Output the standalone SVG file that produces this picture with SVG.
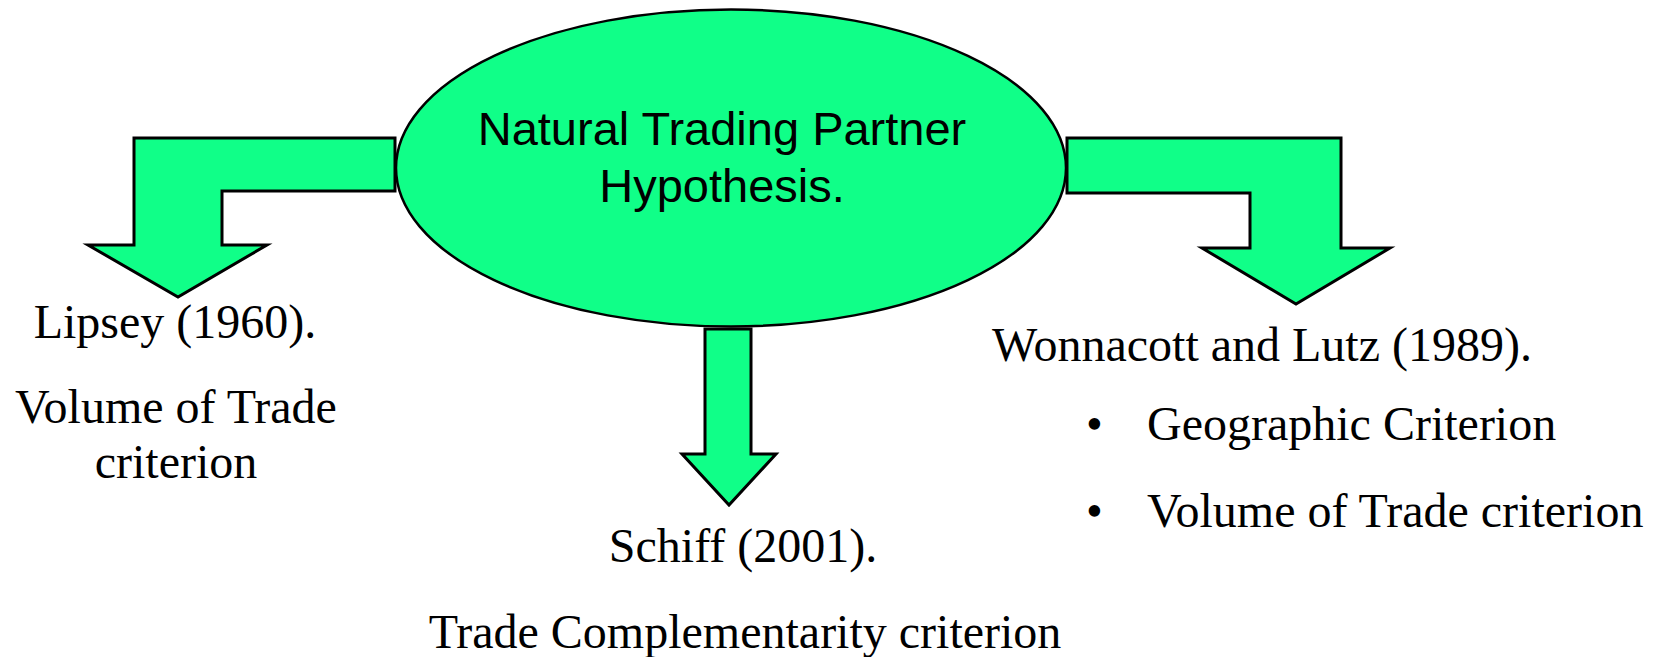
<svg xmlns="http://www.w3.org/2000/svg" width="1662" height="657" viewBox="0 0 1662 657">
<style>
.shape{fill:#10FF88;stroke:#000;stroke-width:3;stroke-linejoin:miter}
.sans{font-family:"Liberation Sans",Arial,sans-serif;font-size:47px;fill:#000;text-anchor:middle}
.serif{font-family:"Liberation Serif","Times New Roman",serif;font-size:48px;fill:#000}
.mid{text-anchor:middle}
</style>
<rect width="1662" height="657" fill="#fff"/>
<g id="connectors">
<polygon class="shape" points="395,138 134,138 134,245 88,245 178,297 267,245 222,245 222,191 395,191"/>
<polygon class="shape" points="1067,138 1341,138 1341,248 1390,248 1296,304 1202,248 1250,248 1250,193 1067,193"/>
<polygon class="shape" points="705,329 751,329 751,454 776,454 729,505 682,454 705,454"/>
</g>
<g id="hypothesis">
<ellipse class="shape" cx="731" cy="168" rx="335" ry="158.5" style="stroke-width:2.5"/>
<text class="sans" x="722" y="145">Natural Trading Partner</text>
<text class="sans" x="722" y="202">Hypothesis.</text>
</g>
<g id="lipsey">
<text class="serif mid" x="175" y="338">Lipsey (1960).</text>
<text class="serif mid" x="176" y="423">Volume of Trade</text>
<text class="serif mid" x="176" y="478">criterion</text>
</g>
<g id="schiff">
<text class="serif mid" x="743" y="562">Schiff (2001).</text>
<text class="serif mid" x="745" y="648">Trade Complementarity criterion</text>
</g>
<g id="wonnacott">
<text class="serif" x="992" y="361">Wonnacott and Lutz (1989).</text>
<text class="serif" x="1086" y="440">•</text>
<text class="serif" x="1147" y="440">Geographic Criterion</text>
<text class="serif" x="1086" y="527">•</text>
<text class="serif" x="1147" y="527">Volume of Trade criterion</text>
</g>
</svg>
